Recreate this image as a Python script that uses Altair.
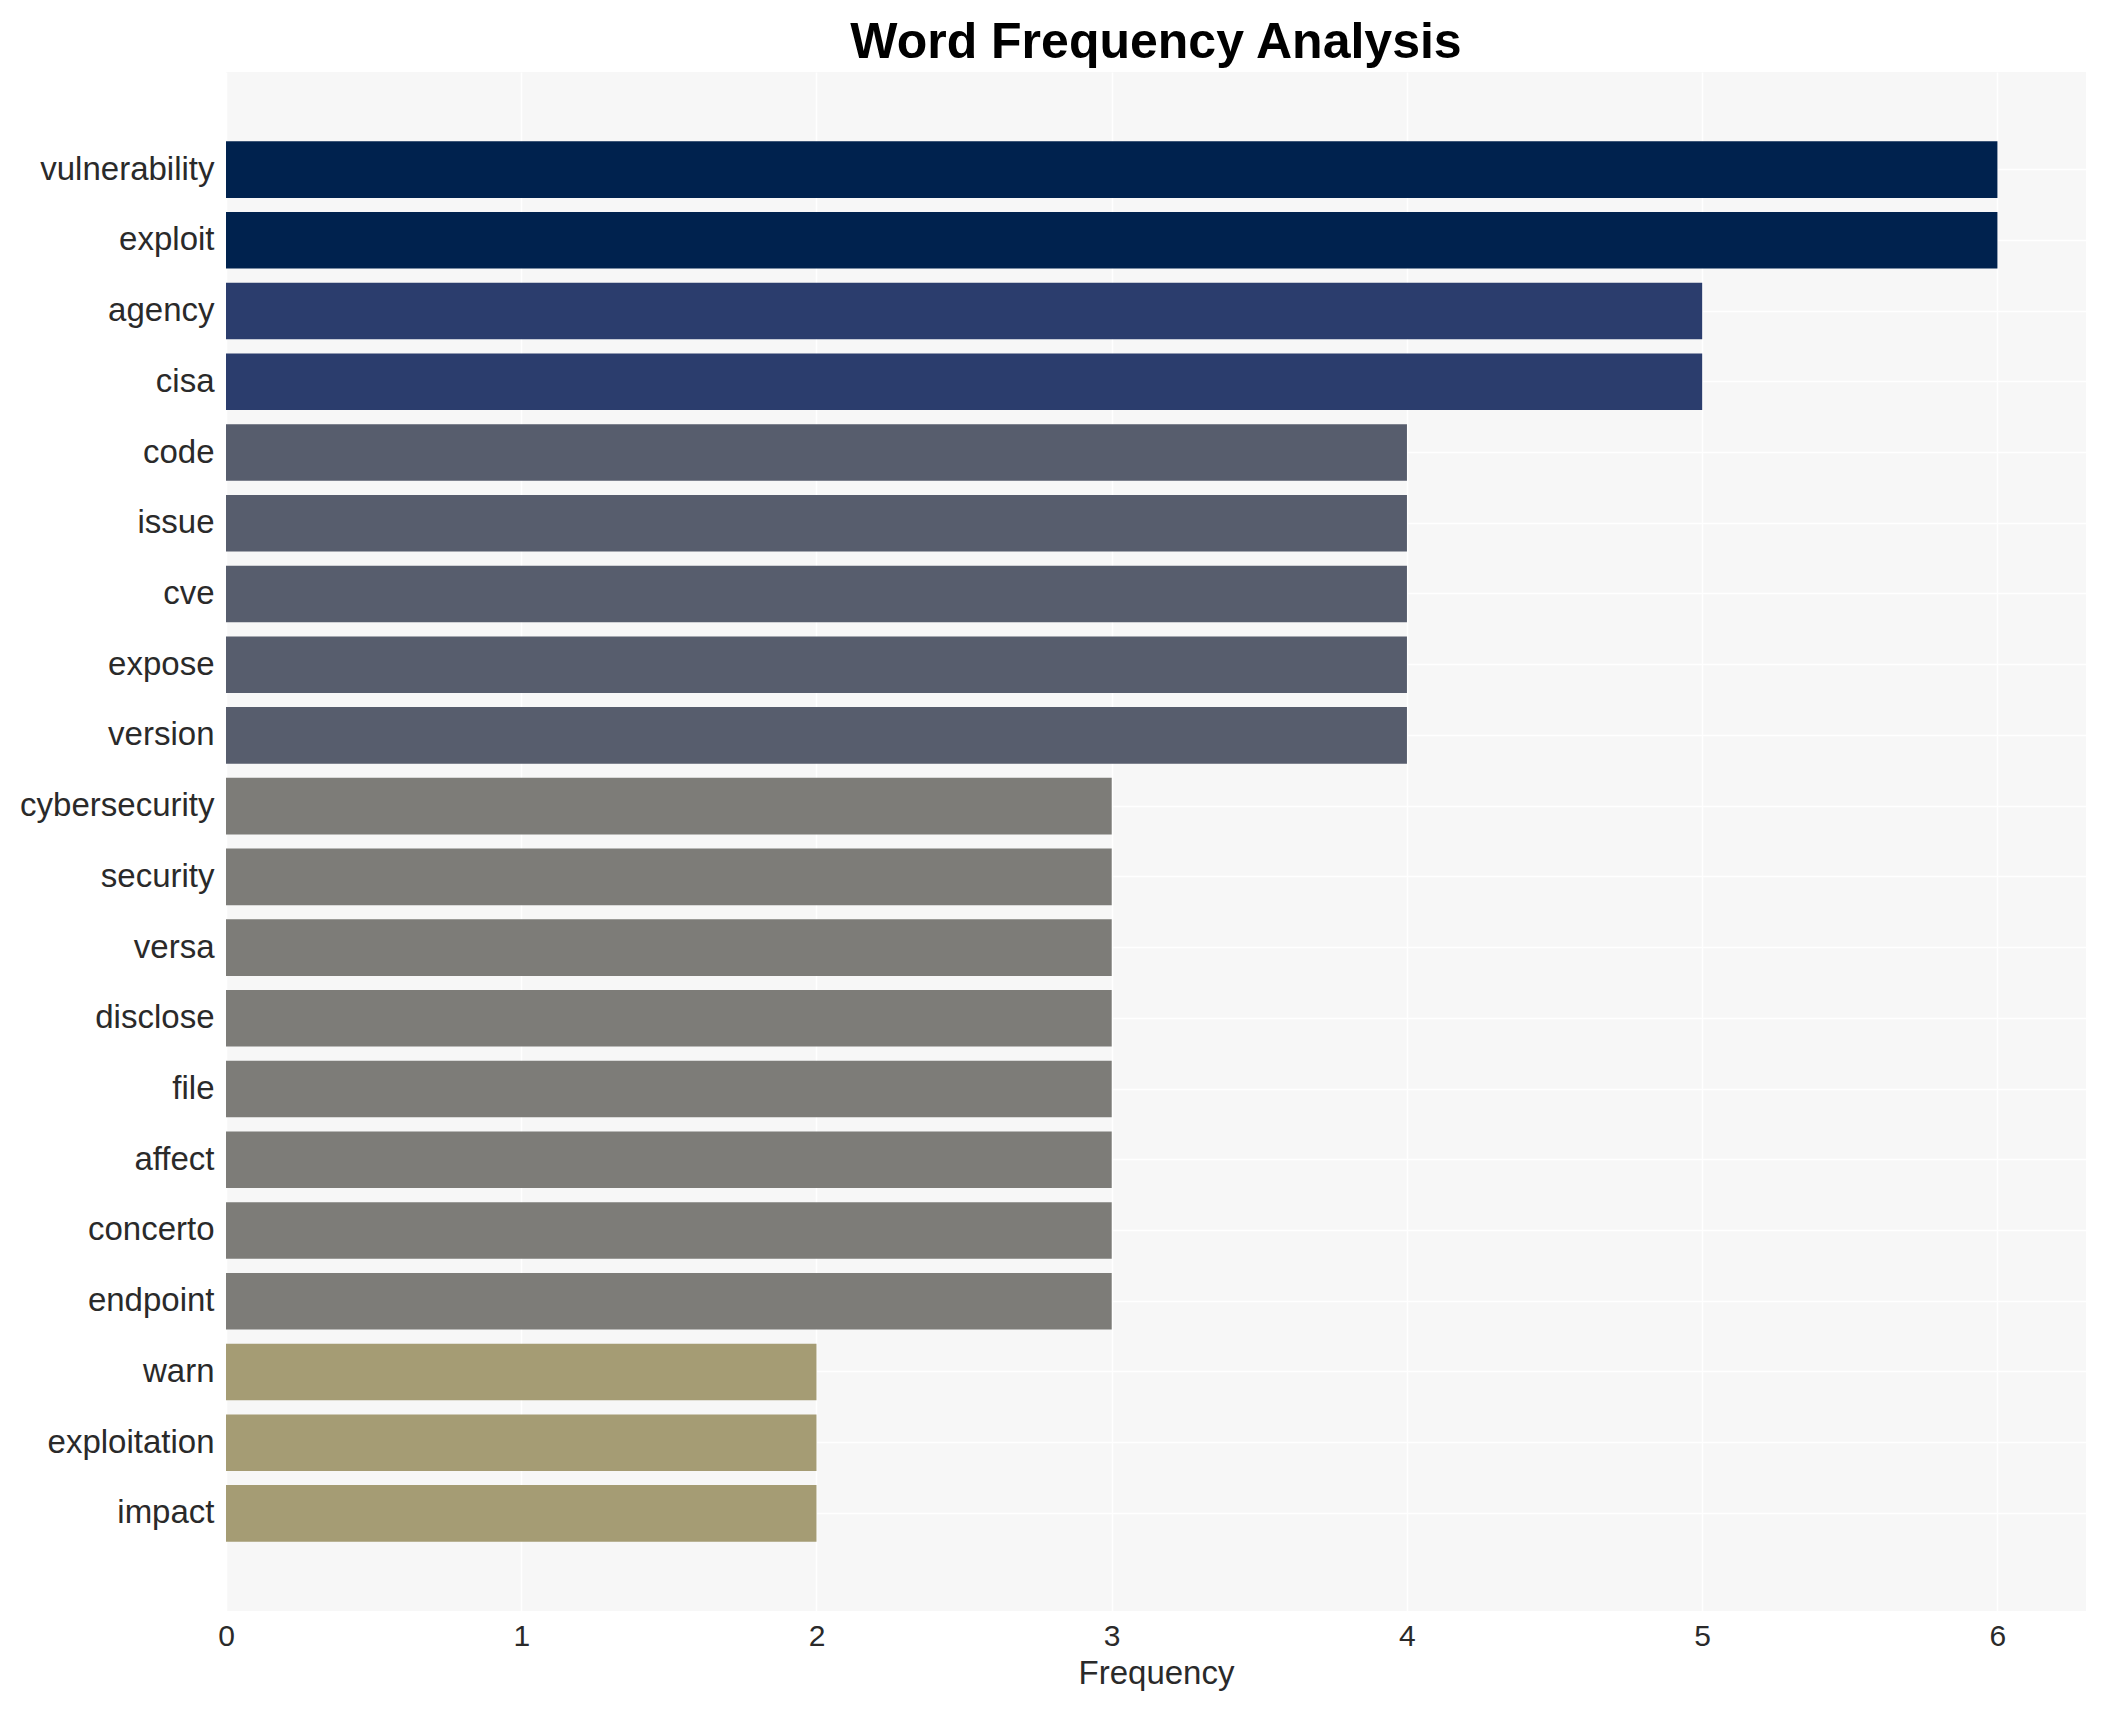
import altair as alt
import pandas as pd

words = ["vulnerability", "exploit", "agency", "cisa", "code", "issue", "cve",
         "expose", "version", "cybersecurity", "security", "versa", "disclose",
         "file", "affect", "concerto", "endpoint", "warn", "exploitation", "impact"]
freqs = [6, 6, 5, 5, 4, 4, 4, 4, 4, 3, 3, 3, 3, 3, 3, 3, 3, 2, 2, 2]
x_ticks = [0, 1, 2, 3, 4, 5, 6]
color_levels = [2, 3, 4, 5, 6]
color_values = ["#A59C74", "#7D7C78", "#575D6D", "#2B3D6D", "#00224E"]

df = pd.DataFrame({"word": words, "freq": freqs})

FONT = "Liberation Sans"

chart = alt.Chart(df).mark_bar().encode(
    x=alt.X("freq:Q",
            scale=alt.Scale(domain=[0, 6.3], nice=False, zero=True),
            axis=alt.Axis(values=x_ticks, title="Frequency", ticks=False, domain=False,
                          grid=True, gridColor="white", gridWidth=1.5, labelFlush=False,
                          labelFontSize=30, labelPadding=10, labelColor="#2a2a2a",
                          labelFont=FONT, titleFont=FONT, titleFontSize=33,
                          titleFontWeight="normal", titleColor="#2a2a2a",
                          titlePadding=6)),
    y=alt.Y("word:N", sort=words,
            scale=alt.Scale(paddingInner=0.2, paddingOuter=0.98),
            axis=alt.Axis(title=None, ticks=False, domain=False, grid=True,
                          gridColor="white", gridWidth=1.5, bandPosition=0.5,
                          labelFontSize=33, labelPadding=12, labelColor="#2a2a2a",
                          labelFont=FONT, labelLimit=500)),
    color=alt.Color("freq:O", scale=alt.Scale(domain=color_levels, range=color_values),
                    legend=None),
).properties(
    width=1860,
    height=1539,
    title=alt.TitleParams("Word Frequency Analysis", font=FONT, fontSize=50,
                          fontWeight="bold", color="black", anchor="middle", offset=4),
    autosize=alt.AutoSizeParams(type="none"),
    padding={"left": 218, "top": 64, "right": 11, "bottom": 88},
    view=alt.ViewBackground(fill="#F7F7F7", strokeWidth=0),
).configure(background="white")

chart.save("out.html", embed_options={"renderer": "svg", "actions": False})
